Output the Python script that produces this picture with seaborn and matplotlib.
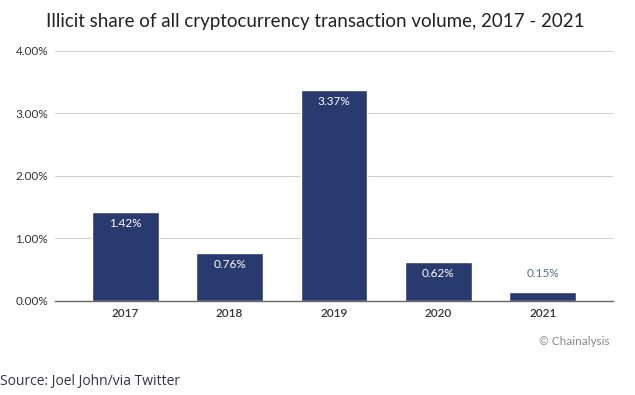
import matplotlib
matplotlib.use("Agg")
import matplotlib.pyplot as plt
import seaborn as sns
import pandas as pd

years = ["2017", "2018", "2019", "2020", "2021"]
shares = [1.42, 0.76, 3.37, 0.62, 0.15]
labels = ["1.42%", "0.76%", "3.37%", "0.62%", "0.15%"]
ticks = [0, 1, 2, 3, 4]
tick_labels = ["0.00%", "1.00%", "2.00%", "3.00%", "4.00%"]

sns.set_style("white")
plt.rcParams["font.family"] = ["Lato", "DejaVu Sans"]

df = pd.DataFrame({"year": years, "share": shares})

fig = plt.figure(figsize=(6.35, 3.95), dpi=100)
ax = fig.add_axes([0.087, 0.238, 0.878, 0.633])

sns.barplot(data=df, x="year", y="share", color="#283a6e", saturation=1,
            width=0.64, ax=ax, zorder=3)

ax.set_ylim(0, 4)
ax.set_xlim(-0.67, 4.67)
ax.set_yticks(ticks)
ax.set_yticklabels(tick_labels, fontsize=8.5, color="#333333")
ax.yaxis.grid(True, color="#d0d0d0", linewidth=0.8, zorder=0)
ax.tick_params(axis="both", length=0, pad=5)
ax.set_xticklabels(years, fontsize=8.5, color="#333333", fontweight="semibold")
ax.tick_params(axis="x", pad=5)
ax.set_xlabel("")
ax.set_ylabel("")
for side in ["left", "right", "top"]:
    ax.spines[side].set_visible(False)
ax.spines["bottom"].set_color("#666666")
ax.spines["bottom"].set_linewidth(1.0)
ax.spines["bottom"].set_zorder(4)

for i, (v, lab) in enumerate(zip(shares, labels)):
    if v > 0.4:
        ax.text(i, v - 0.18, lab, ha="center", va="center", fontsize=8.5,
                color="white", zorder=5)
    else:
        ax.text(i, v + 0.29, lab, ha="center", va="center", fontsize=8.5,
                color="#5b6a9a", zorder=5)

fig.text(0.497, 0.945, "Illicit share of all cryptocurrency transaction volume, 2017 - 2021",
         ha="center", va="center", fontsize=13.5, color="#222222")
fig.text(0.96, 0.135, "\u00a9 Chainalysis", ha="right", va="center",
         fontsize=8.5, color="#888888")
fig.text(0.0, 0.035, "Source: Joel John/via Twitter", ha="left", va="center",
         fontsize=10, color="#333344", family=["Open Sans", "DejaVu Sans"])

fig.savefig("out.png", dpi=100)
